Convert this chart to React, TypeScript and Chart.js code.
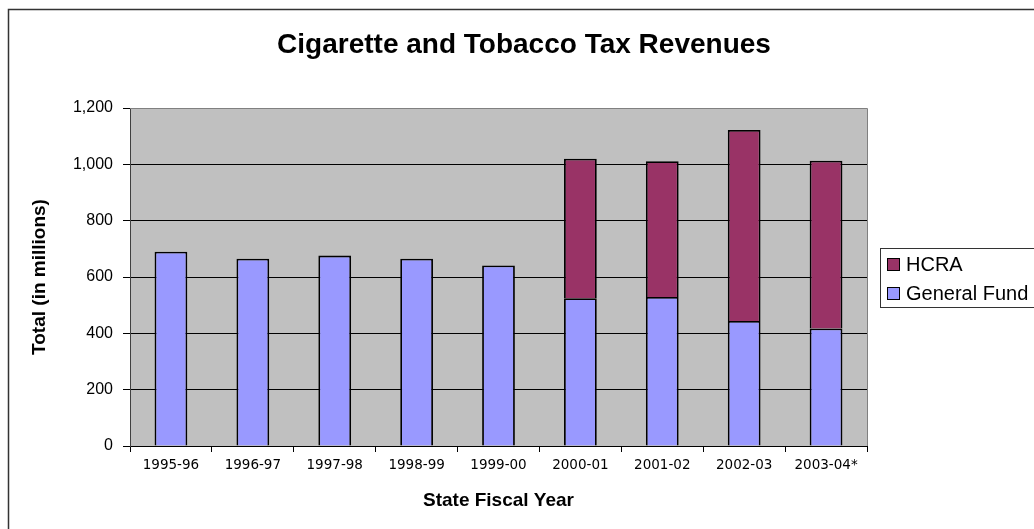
import React, { useEffect, useRef } from "react";
import { Chart, registerables } from "chart.js";

Chart.register(...registerables);

const categories = ["1995-96", "1996-97", "1997-98", "1998-99", "1999-00", "2000-01", "2001-02", "2002-03", "2003-04*"];
const generalFund = [690, 665, 676, 665, 641, 525, 529, 444, 417];
const hcra = [null, null, null, null, null, 495, 482, 678, 596];
const yTicks = [0, 200, 400, 600, 800, 1000, 1200];

const TITLE = "Cigarette and Tobacco Tax Revenues";
const X_TITLE = "State Fiscal Year";
const Y_TITLE = "Total (in millions)";

const ARIAL = "'Liberation Sans', Arial, sans-serif";

const decorPlugin = {
  id: "decor",
  beforeDraw(chart: any) {
    const { ctx, chartArea } = chart;
    ctx.save();
    ctx.fillStyle = "#ffffff";
    ctx.fillRect(0, 0, chart.width, chart.height);
    ctx.fillStyle = "#C0C0C0";
    ctx.fillRect(chartArea.left, chartArea.top, chartArea.right - chartArea.left, chartArea.bottom - chartArea.top);
    // outer border
    ctx.strokeStyle = "#333333";
    ctx.lineWidth = 1.5;
    ctx.strokeRect(8.5, 9.5, chart.width + 20, chart.height + 20);
    ctx.restore();
  },
  afterDraw(chart: any) {
    const { ctx, chartArea } = chart;
    ctx.save();
    // plot area top / right border
    ctx.strokeStyle = "#808080";
    ctx.lineWidth = 1;
    ctx.beginPath();
    ctx.moveTo(chartArea.left, Math.round(chartArea.top) + 0.5);
    ctx.lineTo(Math.round(chartArea.right) + 0.5, Math.round(chartArea.top) + 0.5);
    ctx.lineTo(Math.round(chartArea.right) + 0.5, chartArea.bottom);
    ctx.stroke();

    // title
    ctx.fillStyle = "#000";
    ctx.font = `bold 28px ${ARIAL}`;
    ctx.textAlign = "center";
    ctx.textBaseline = "middle";
    ctx.fillText(TITLE, 524, 45);

    // legend
    const lx = 880.5, ly = 248.5;
    ctx.fillStyle = "#fff";
    ctx.fillRect(lx, ly, 200, 59);
    ctx.strokeStyle = "#333";
    ctx.lineWidth = 1;
    ctx.strokeRect(lx, ly, 200, 59);
    const items = [chart.data.datasets[1], chart.data.datasets[0]];
    items.forEach((ds: any, i: number) => {
      const cy = 265 + i * 29;
      ctx.fillStyle = ds.backgroundColor;
      ctx.fillRect(887.5, cy - 6.5, 12, 12);
      ctx.strokeStyle = "#000";
      ctx.strokeRect(887.5, cy - 6.5, 12, 12);
      ctx.fillStyle = "#000";
      ctx.font = `20px ${ARIAL}`;
      ctx.textAlign = "left";
      ctx.textBaseline = "middle";
      ctx.fillText(ds.label, 906, cy + 0.5);
    });
    ctx.restore();
  },
};

export default function App() {
  const ref = useRef<HTMLCanvasElement>(null);
  useEffect(() => {
    document.body.style.margin = "0";
    const chart = new Chart(ref.current!, {
      type: "bar",
      data: {
        labels: categories,
        datasets: [
          {
            label: "General Fund",
            data: generalFund,
            backgroundColor: "#9999FF",
            borderColor: "#000000",
            borderWidth: 1.8,
            barPercentage: 0.8,
            categoryPercentage: 0.5,
          },
          {
            label: "HCRA",
            data: hcra as any,
            backgroundColor: "#993366",
            borderColor: "#000000",
            borderWidth: 1.8,
            barPercentage: 0.8,
            categoryPercentage: 0.5,
          },
        ],
      },
      options: {
        responsive: false,
        animation: false,
        layout: { padding: { top: 108, left: 0, right: 167, bottom: 0 } },
        plugins: {
          legend: { display: false },
          title: { display: false },
          tooltip: { enabled: false },
        },
        scales: {
          x: {
            stacked: true,
            afterFit(scale: any) {
              scale.height = 83;
            },
            grid: {
              drawOnChartArea: false,
              drawTicks: true,
              tickLength: 6,
              color: "#000",
              offset: true,
            },
            border: { color: "#000", width: 1 },
            ticks: {
              color: "#000",
              font: { family: "'DejaVu Sans', sans-serif", size: 13.5 },
              padding: 5,
              maxRotation: 0,
              autoSkip: false,
            },
            title: {
              display: true,
              text: X_TITLE,
              color: "#000",
              font: { family: ARIAL, size: 19, weight: "bold" },
              padding: { top: 0, bottom: 16.5 },
            },
          },
          y: {
            stacked: true,
            min: 0,
            max: 1200,
            afterFit(scale: any) {
              scale.width = 130;
            },
            afterBuildTicks(scale: any) {
              scale.ticks = yTicks.map((v) => ({ value: v }));
            },
            grid: {
              color: (c: any) => (c.tick && c.tick.value === 1200 ? "#808080" : "#000"),
              tickColor: "#000",
              tickLength: 7,
              drawTicks: true,
            },
            border: { color: "#404040", width: 1 },
            ticks: {
              color: "#000",
              font: { family: ARIAL, size: 16 },
              padding: 10,
              callback: (v: any) => Number(v).toLocaleString("en-US"),
            },
            title: {
              display: true,
              text: Y_TITLE,
              color: "#000",
              font: { family: ARIAL, size: 19, weight: "bold" },
              padding: { top: 28.6, bottom: 0 },
            },
          },
        },
      },
      plugins: [decorPlugin],
    });
    return () => chart.destroy();
  }, []);
  return <canvas ref={ref} width={1034} height={529} style={{ display: "block" }} />;
}
